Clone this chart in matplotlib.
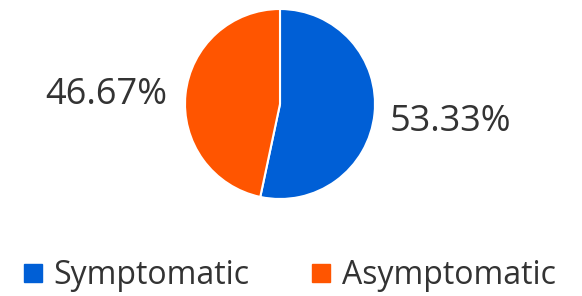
import matplotlib.pyplot as plt
from matplotlib.lines import Line2D

labels = ["Symptomatic", "Asymptomatic"]
shares = [53.33, 46.67]
colors = ["#005fd6", "#ff5500"]

W, H = 582, 296
fig = plt.figure(figsize=(W / 100, H / 100), dpi=100)
ax = fig.add_axes([185 / W, 97 / H, 190 / W, 190 / H])

wedges, texts, pcts = ax.pie(
    shares,
    colors=colors,
    startangle=90,
    counterclock=False,
    autopct="%.2f%%",
    pctdistance=1.8,
    wedgeprops=dict(edgecolor="white", linewidth=1.5),
    textprops=dict(fontsize=26, color="#333333", family="Open Sans"),
)
# left label sits a bit lower in the original
pcts[1].set_position((-1.83, 0.095))
ax.set_xlim(-1, 1)
ax.set_ylim(-1, 1)
ax.set_aspect("equal")

handles = [
    Line2D([], [], marker="s", linestyle="none", markersize=13,
           markerfacecolor=c, markeredgecolor=c)
    for c in colors
]
fig.legend(handles, labels, loc="center", bbox_to_anchor=(0.495, 20 / H),
           ncol=2, frameon=False, handlelength=0.8, handletextpad=0.25,
           columnspacing=1.85,
           prop=dict(family="Open Sans", size=23), labelcolor="#333333")

fig.savefig("out.png", dpi=100)
